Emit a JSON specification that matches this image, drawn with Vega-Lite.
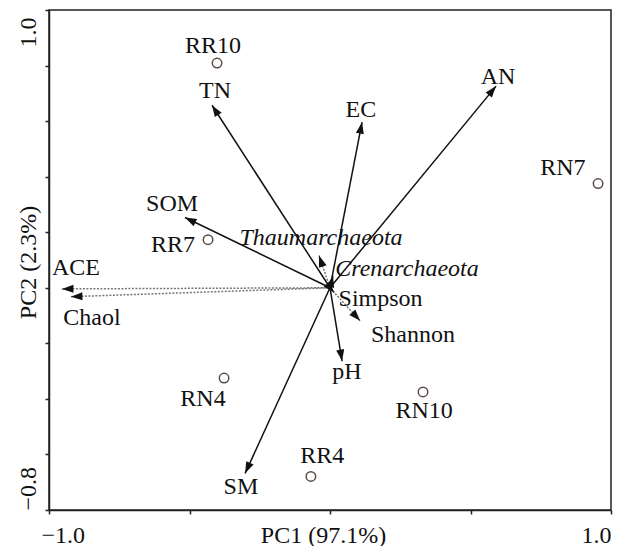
{
  "$schema": "https://vega.github.io/schema/vega-lite/v6.json",
  "width": 562,
  "height": 500,
  "autosize": {"type": "none"},
  "padding": {"left": 49, "top": 10, "right": 9, "bottom": 36},
  "background": "white",
  "config": {
    "font": "Liberation Serif",
    "view": {"stroke": "#222", "strokeWidth": 1.5},
    "axis": {
      "grid": false,
      "domainColor": "#222",
      "domainWidth": 1.5,
      "tickColor": "#222",
      "tickWidth": 1.5,
      "tickSize": 4,
      "labelFont": "Liberation Serif",
      "labelFontSize": 24,
      "labelColor": "#111",
      "titleFont": "Liberation Serif",
      "titleFontSize": 24,
      "titleFontWeight": "normal",
      "titleColor": "#111"
    }
  },
  "datasets": {
    "sites": [
      {"name": "RR10", "x": -0.402, "y": 0.809, "lx": -0.416, "ly": 0.870},
      {"name": "RN7", "x": 0.954, "y": 0.375, "lx": 0.829, "ly": 0.433},
      {"name": "RR7", "x": -0.434, "y": 0.173, "lx": -0.559, "ly": 0.155},
      {"name": "RN4", "x": -0.377, "y": -0.325, "lx": -0.452, "ly": -0.401},
      {"name": "RN10", "x": 0.331, "y": -0.375, "lx": 0.335, "ly": -0.444},
      {"name": "RR4", "x": -0.068, "y": -0.679, "lx": -0.028, "ly": -0.606}
    ],
    "env": [
      {"name": "TN", "x": -0.420, "y": 0.657, "lx": -0.409, "ly": 0.708},
      {"name": "EC", "x": 0.114, "y": 0.596, "lx": 0.110, "ly": 0.639},
      {"name": "AN", "x": 0.591, "y": 0.726, "lx": 0.598, "ly": 0.758},
      {"name": "SOM", "x": -0.516, "y": 0.253, "lx": -0.562, "ly": 0.303},
      {"name": "SM", "x": -0.302, "y": -0.668, "lx": -0.317, "ly": -0.718},
      {"name": "pH", "x": 0.043, "y": -0.264, "lx": 0.060, "ly": -0.303}
    ],
    "species": [
      {"name": "ACE", "group": "index", "x": -0.954, "y": -0.004, "lx": -0.904, "ly": 0.072},
      {"name": "Chaol", "group": "index", "x": -0.922, "y": -0.032, "lx": -0.847, "ly": -0.108},
      {"name": "Thaumarchaeota", "group": "phylum", "x": -0.039, "y": 0.116, "lx": -0.032, "ly": 0.181},
      {"name": "Crenarchaeota", "group": "phylum", "x": 0.011, "y": 0.043, "lx": 0.274, "ly": 0.069},
      {"name": "Simpson", "group": "index", "x": 0.015, "y": -0.018, "lx": 0.180, "ly": -0.040},
      {"name": "Shannon", "group": "index", "x": 0.107, "y": -0.119, "lx": 0.295, "ly": -0.170}
    ]
  },
  "layer": [
    {
      "mark": {"type": "rule", "color": "#9a9a9a", "strokeDash": [1, 1.5], "strokeWidth": 1},
      "encoding": {"x": {"datum": 0, "type": "quantitative"}}
    },
    {
      "mark": {"type": "rule", "color": "#9a9a9a", "strokeDash": [1, 1.5], "strokeWidth": 1},
      "encoding": {"y": {"datum": 0, "type": "quantitative"}}
    },
    {
      "data": {"name": "species"},
      "mark": {"type": "rule", "color": "#777777", "strokeDash": [2, 1.5], "strokeWidth": 1.5},
      "encoding": {
        "x": {
          "field": "x", "type": "quantitative",
          "scale": {"domain": [-1, 1], "nice": false, "zero": false},
          "axis": {
            "values": [-1, -0.5, 0, 0.5, 1],
            "labelExpr": "datum.value == -1 ? '−1.0' : datum.value == 1 ? '1.0' : ''",
            "labelFlush": true,
            "labelOverlap": false,
            "labelOffset": {"condition": {"test": "datum.value < -0.9", "value": -8}, "value": 0},
            "labelBaseline": "alphabetic",
            "labelPadding": 28,
            "title": "PC1 (97.1%)",
            "titleX": 274,
            "titleY": 32,
            "titleBaseline": "alphabetic",
            "titleAlign": "center"
          }
        },
        "y": {
          "field": "y", "type": "quantitative",
          "scale": {"domain": [-0.8, 1.0], "nice": false, "zero": false},
          "axis": {
            "values": [-0.8, -0.6, -0.4, -0.2, 0, 0.2, 0.4, 0.6, 0.8, 1.0],
            "labelExpr": "datum.value > 0.9 ? '1.0' : datum.value < -0.7 ? '−0.8' : ''",
            "labelAngle": -90,
            "labelAlign": {"condition": {"test": "datum.value > 0.9", "value": "right"}, "value": "left"},
            "labelOffset": {"condition": {"test": "datum.value > 0.9", "value": 7}, "value": 0},
            "labelBaseline": "alphabetic",
            "labelPadding": 10,
            "labelOverlap": false,
            "labelFlush": false,
            "title": "PC2 (2.3%)",
            "titleAngle": -90,
            "titleX": -14,
            "titleY": 252,
            "titleBaseline": "alphabetic",
            "titleAlign": "center"
          }
        },
        "x2": {"datum": 0},
        "y2": {"datum": 0}
      }
    },
    {
      "data": {"name": "env"},
      "mark": {"type": "rule", "color": "#111111", "strokeWidth": 1.5},
      "encoding": {
        "x": {"field": "x", "type": "quantitative"},
        "y": {"field": "y", "type": "quantitative"},
        "x2": {"datum": 0},
        "y2": {"datum": 0}
      }
    },
    {
      "data": {"name": "species"},
      "transform": [{"calculate": "atan2(datum.x * 281, datum.y * 278) * 180 / PI", "as": "ang"}],
      "mark": {"type": "point", "shape": "M0,0L-0.35,1L0.35,1Z", "filled": true, "color": "#111111", "opacity": 1, "size": 529},
      "encoding": {
        "x": {"field": "x", "type": "quantitative"},
        "y": {"field": "y", "type": "quantitative"},
        "angle": {"field": "ang", "type": "quantitative", "scale": null}
      }
    },
    {
      "data": {"name": "env"},
      "transform": [{"calculate": "atan2(datum.x * 281, datum.y * 278) * 180 / PI", "as": "ang"}],
      "mark": {"type": "point", "shape": "M0,0L-0.35,1L0.35,1Z", "filled": true, "color": "#111111", "opacity": 1, "size": 529},
      "encoding": {
        "x": {"field": "x", "type": "quantitative"},
        "y": {"field": "y", "type": "quantitative"},
        "angle": {"field": "ang", "type": "quantitative", "scale": null}
      }
    },
    {
      "data": {"name": "sites"},
      "mark": {"type": "point", "shape": "circle", "filled": false, "color": "#5a4d47", "strokeWidth": 1.5, "size": 90, "opacity": 1},
      "encoding": {
        "x": {"field": "x", "type": "quantitative"},
        "y": {"field": "y", "type": "quantitative"}
      }
    },
    {
      "data": {"name": "sites"},
      "mark": {"type": "text", "fontSize": 24, "font": "Liberation Serif", "color": "#111111", "align": "center", "baseline": "middle"},
      "encoding": {
        "x": {"field": "lx", "type": "quantitative"},
        "y": {"field": "ly", "type": "quantitative"},
        "text": {"field": "name"}
      }
    },
    {
      "data": {"name": "env"},
      "mark": {"type": "text", "fontSize": 24, "font": "Liberation Serif", "color": "#111111", "align": "center", "baseline": "middle"},
      "encoding": {
        "x": {"field": "lx", "type": "quantitative"},
        "y": {"field": "ly", "type": "quantitative"},
        "text": {"field": "name"}
      }
    },
    {
      "data": {"name": "species"},
      "transform": [{"filter": "datum.group == 'index'"}],
      "mark": {"type": "text", "fontSize": 24, "font": "Liberation Serif", "color": "#111111", "align": "center", "baseline": "middle"},
      "encoding": {
        "x": {"field": "lx", "type": "quantitative"},
        "y": {"field": "ly", "type": "quantitative"},
        "text": {"field": "name"}
      }
    },
    {
      "data": {"name": "species"},
      "transform": [{"filter": "datum.group == 'phylum'"}],
      "mark": {"type": "text", "fontSize": 24, "font": "Liberation Serif", "fontStyle": "italic", "color": "#111111", "align": "center", "baseline": "middle"},
      "encoding": {
        "x": {"field": "lx", "type": "quantitative"},
        "y": {"field": "ly", "type": "quantitative"},
        "text": {"field": "name"}
      }
    }
  ]
}
